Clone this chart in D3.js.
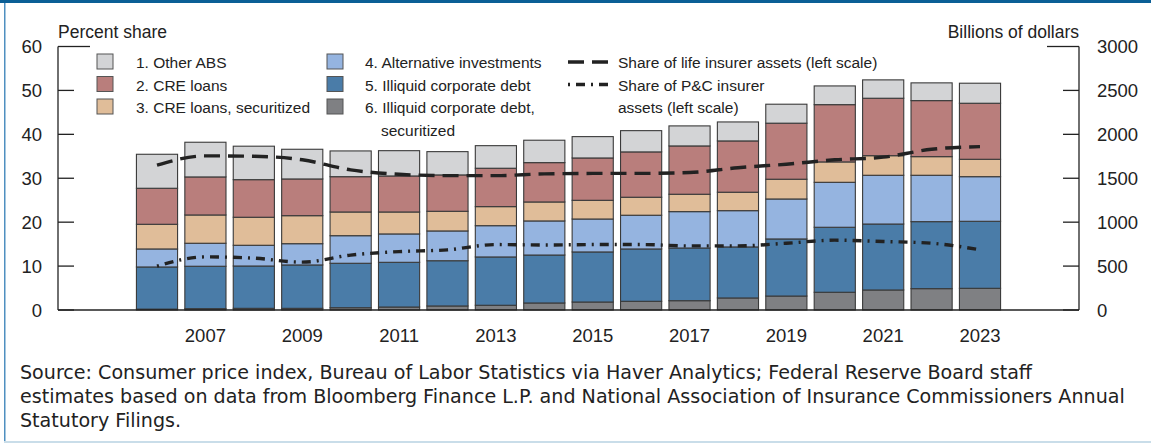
<!DOCTYPE html>
<html>
<head>
<meta charset="utf-8">
<script src="https://cdn.jsdelivr.net/npm/d3@7"></script>
<style>
  html, body { margin: 0; padding: 0; background: #fff; }
  svg { display: block; }
  text { font-family: "Liberation Sans", Arial, sans-serif; fill: #222; }
  .note text { font-family: "DejaVu Sans", sans-serif; }
</style>
</head>
<body>
<svg id="chart" width="1151" height="444"></svg>
<script>
// Years on the horizontal axis
const years = [2006, 2007, 2008, 2009, 2010, 2011, 2012, 2013, 2014, 2015, 2016, 2017, 2018, 2019, 2020, 2021, 2022, 2023];
const yearTicks = [2007, 2009, 2011, 2013, 2015, 2017, 2019, 2021, 2023];

// Holdings by category, billions of dollars (right scale), stacked bottom to top
const illiquidCorpDebtSecuritized = [10, 15, 19, 19, 26, 34, 46, 54, 80, 91, 99, 106, 137, 159, 202, 228, 243, 247];
const illiquidCorpDebt = [480, 483, 482, 494, 506, 509, 515, 550, 546, 570, 596, 600, 581, 650, 740, 751, 763, 763];
const alternativeInvestments = [205, 262, 236, 242, 314, 323, 339, 356, 388, 375, 384, 414, 413, 455, 512, 555, 528, 508];
const creLoansSecuritized = [281, 322, 319, 319, 270, 250, 224, 217, 216, 213, 205, 198, 210, 225, 232, 223, 212, 198];
const creLoans = [410, 433, 428, 418, 402, 410, 414, 437, 448, 482, 516, 550, 584, 638, 652, 654, 638, 638];
const otherABS = [387, 395, 381, 338, 293, 288, 265, 257, 255, 243, 242, 228, 216, 216, 213, 209, 202, 228];

// Share of insurer assets, percent (left scale)
const lifeShare = [33.0, 35.1, 35.0, 34.2, 31.9, 30.9, 30.6, 30.6, 31.0, 31.1, 31.1, 31.3, 32.4, 33.2, 34.2, 34.8, 36.6, 37.2];
const pcShare = [10.0, 12.1, 11.8, 10.9, 12.5, 13.3, 13.7, 14.9, 14.8, 14.9, 14.9, 14.6, 14.6, 15.2, 15.9, 15.6, 15.2, 13.7];

const leftTicks = [0, 10, 20, 30, 40, 50, 60];
const rightTicks = [0, 500, 1000, 1500, 2000, 2500, 3000];

const series = [
  { key: "secCorp", label: "6. Illiquid corporate debt,", label2: "securitized", values: illiquidCorpDebtSecuritized, color: "#7f8083" },
  { key: "corp", label: "5. Illiquid corporate debt", values: illiquidCorpDebt, color: "#4a7ca8" },
  { key: "alt", label: "4. Alternative investments", values: alternativeInvestments, color: "#95b4e0" },
  { key: "creSec", label: "3. CRE loans, securitized", values: creLoansSecuritized, color: "#e0bd99" },
  { key: "cre", label: "2. CRE loans", values: creLoans, color: "#b97e7c" },
  { key: "abs", label: "1. Other ABS", values: otherABS, color: "#d3d4d6" }
];

const svg = d3.select("#chart");

// Frame
svg.append("rect").attr("x", 0).attr("y", 0).attr("width", 1151).attr("height", 3).attr("fill", "#0b5f96");
svg.append("rect").attr("x", 4).attr("y", 3).attr("width", 1.5).attr("height", 438).attr("fill", "#4f8fc0");
svg.append("rect").attr("x", 4).attr("y", 441).attr("width", 1147).attr("height", 2).attr("fill", "#c9dde9");

const plotLeft = 58, plotRight = 1079, plotTop = 46.5, plotBottom = 310;

const x = d3.scaleBand().domain(years).range([plotLeft, plotRight]).paddingInner(0.15).paddingOuter(1.62);
const yRight = d3.scaleLinear().domain([0, 3000]).range([plotBottom, plotTop]);
const yLeft = d3.scaleLinear().domain([0, 60]).range([plotBottom, plotTop]);

// Stacked bars
const rows = years.map((yr, i) => {
  const r = { year: yr };
  series.forEach(s => { r[s.key] = s.values[i]; });
  return r;
});
const stack = d3.stack().keys(series.map(s => s.key));
const stacked = stack(rows);

const barG = svg.append("g");
stacked.forEach((layer, li) => {
  barG.append("g")
    .attr("fill", series[li].color)
    .selectAll("rect")
    .data(layer)
    .join("rect")
    .attr("x", d => x(d.data.year))
    .attr("width", x.bandwidth())
    .attr("y", d => yRight(d[1]))
    .attr("height", d => yRight(d[0]) - yRight(d[1]))
    .attr("stroke", "#3a3a3a")
    .attr("stroke-width", 1.1);
});

// Axes
const axisColor = "#222";
const leftAxis = svg.append("g");
leftAxis.append("line").attr("x1", plotLeft).attr("x2", plotLeft).attr("y1", plotTop).attr("y2", plotBottom)
  .attr("stroke", axisColor).attr("stroke-width", 1.3);
leftAxis.selectAll("line.tick").data(leftTicks).join("line").attr("class", "tick")
  .attr("x1", plotLeft).attr("x2", d => d === 60 ? plotLeft + 32 : plotLeft + 16)
  .attr("y1", d => yLeft(d)).attr("y2", d => yLeft(d))
  .attr("stroke", axisColor).attr("stroke-width", 1.3);
leftAxis.selectAll("text").data(leftTicks).join("text")
  .attr("x", 42).attr("y", d => yLeft(d)).attr("dy", "0.36em")
  .attr("text-anchor", "end").attr("font-size", 18.5).text(d => d);

const rightAxis = svg.append("g");
rightAxis.append("line").attr("x1", plotRight).attr("x2", plotRight).attr("y1", plotTop).attr("y2", plotBottom)
  .attr("stroke", axisColor).attr("stroke-width", 1.3);
rightAxis.selectAll("line.tick").data(rightTicks).join("line").attr("class", "tick")
  .attr("x1", plotRight).attr("x2", d => d === 3000 ? plotRight - 32 : plotRight - 16)
  .attr("y1", d => yRight(d)).attr("y2", d => yRight(d))
  .attr("stroke", axisColor).attr("stroke-width", 1.3);
rightAxis.selectAll("text").data(rightTicks).join("text")
  .attr("x", 1097).attr("y", d => yRight(d)).attr("dy", "0.36em")
  .attr("text-anchor", "start").attr("font-size", 18.5).text(d => d);

// Baseline
svg.append("line").attr("x1", plotLeft).attr("x2", plotRight).attr("y1", plotBottom).attr("y2", plotBottom)
  .attr("stroke", axisColor).attr("stroke-width", 1.3);

svg.append("g").selectAll("text").data(yearTicks).join("text")
  .attr("x", d => x(d) + x.bandwidth() / 2).attr("y", 342)
  .attr("text-anchor", "middle").attr("font-size", 18.5).text(d => d);

svg.append("text").attr("x", 58).attr("y", 38).attr("font-size", 17.5).text("Percent share");
svg.append("text").attr("x", 1079).attr("y", 38).attr("text-anchor", "end").attr("font-size", 17.5).text("Billions of dollars");

// Share lines
const lineGen = values => d3.line()
  .x((d, i) => x(years[i]) + x.bandwidth() / 2)
  .y(d => yLeft(d))
  .curve(d3.curveMonotoneX)(values);

svg.append("path").attr("d", lineGen(lifeShare)).attr("fill", "none")
  .attr("stroke", "#222").attr("stroke-width", 3.4).attr("stroke-dasharray", "16,8");
svg.append("path").attr("d", lineGen(pcShare)).attr("fill", "none")
  .attr("stroke", "#222").attr("stroke-width", 3.4).attr("stroke-dasharray", "2,6,9,6");

// Legend
const legend = svg.append("g").attr("font-size", 15.5);
const legendCols = [
  { sx: 97, tx: 136, items: ["abs", "cre", "creSec"] },
  { sx: 327, tx: 365, items: ["alt", "corp", "secCorp"] }
];
legendCols.forEach(col => {
  col.items.forEach((key, i) => {
    const s = series.find(d => d.key === key);
    const y0 = 54 + i * 22.5;
    legend.append("rect").attr("x", col.sx).attr("y", y0).attr("width", 16).attr("height", 15)
      .attr("fill", s.color).attr("stroke", "#555").attr("stroke-width", 1);
    legend.append("text").attr("x", col.tx).attr("y", y0 + 14).text(s.label);
    if (s.label2) legend.append("text").attr("x", col.tx + 16).attr("y", y0 + 14 + 22.5).text(s.label2);
  });
});
legend.append("line").attr("x1", 568).attr("x2", 608).attr("y1", 62).attr("y2", 62)
  .attr("stroke", "#222").attr("stroke-width", 3.4).attr("stroke-dasharray", "16,8");
legend.append("text").attr("x", 618).attr("y", 68).text("Share of life insurer assets (left scale)");
legend.append("line").attr("x1", 568).attr("x2", 608).attr("y1", 84.5).attr("y2", 84.5)
  .attr("stroke", "#222").attr("stroke-width", 3.4).attr("stroke-dasharray", "2,6,9,6");
legend.append("text").attr("x", 618).attr("y", 90.5).text("Share of P&C insurer");
legend.append("text").attr("x", 618).attr("y", 113).text("assets (left scale)");

// Source note
const note = svg.append("g").attr("class", "note").attr("font-size", 19.1);
[
  "Source: Consumer price index, Bureau of Labor Statistics via Haver Analytics; Federal Reserve Board staff",
  "estimates based on data from Bloomberg Finance L.P. and National Association of Insurance Commissioners Annual",
  "Statutory Filings."
].forEach((t, i) => {
  note.append("text").attr("x", 20).attr("y", 379 + i * 24).text(t);
});
</script>
</body>
</html>
